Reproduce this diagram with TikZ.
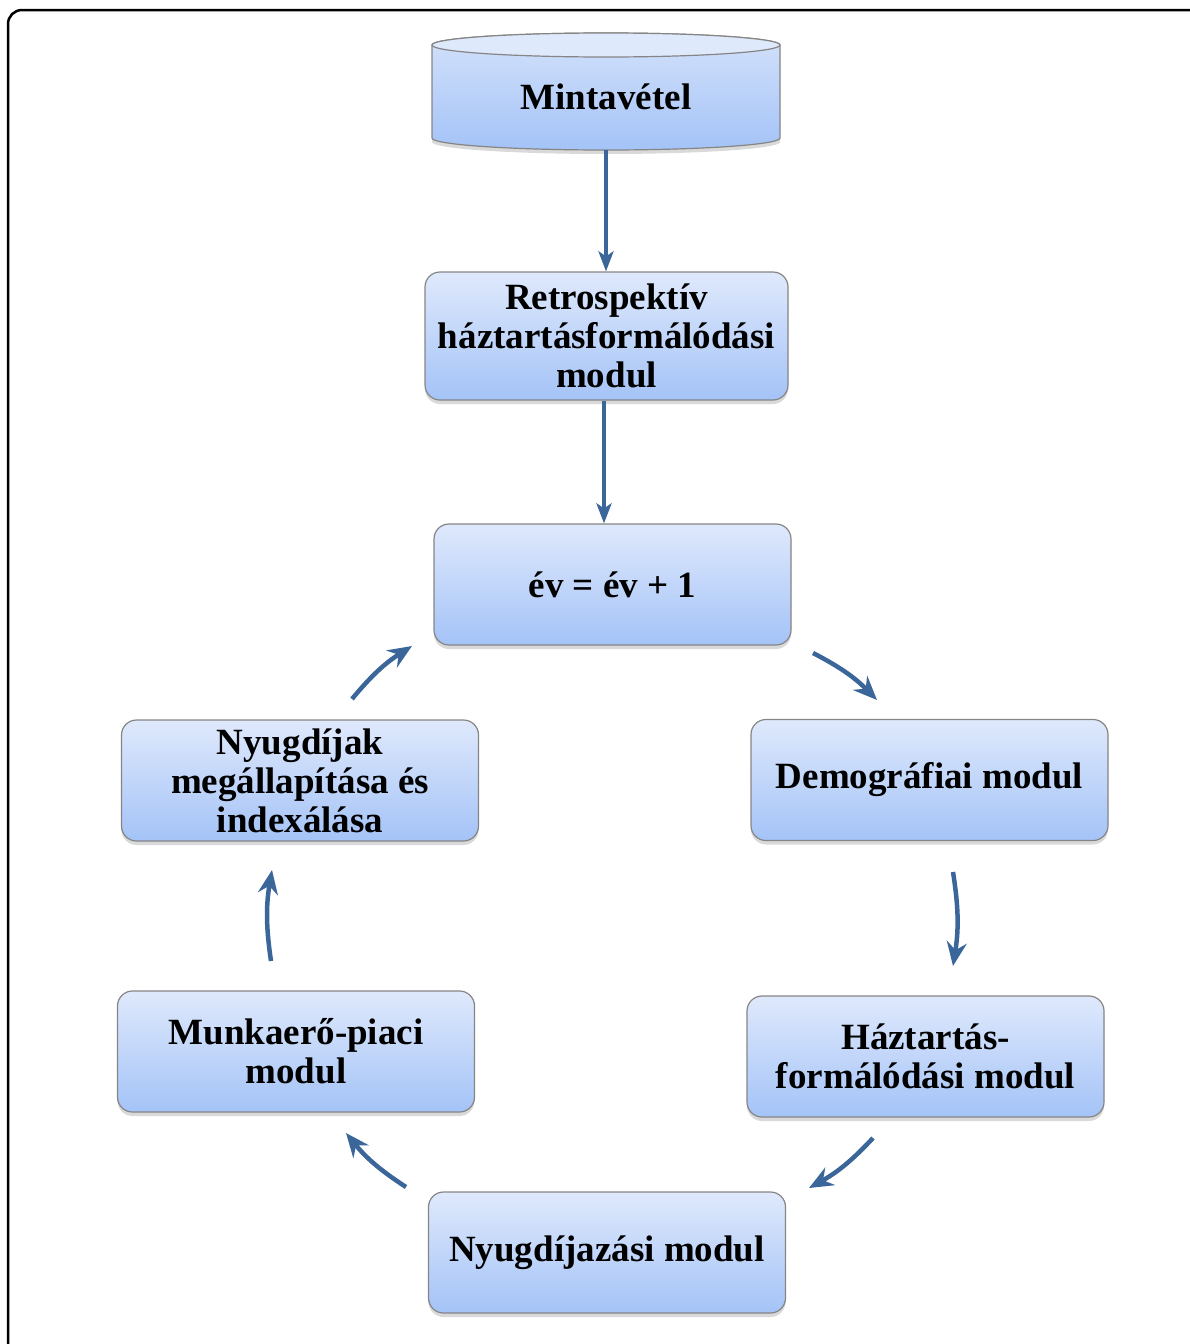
\documentclass[tikz,border=0pt]{standalone}
\usepackage{fontspec}
\setmainfont{Liberation Serif}
\usetikzlibrary{arrows.meta,positioning,shadows}
\definecolor{flow}{HTML}{3A6699}
\definecolor{boxtop}{HTML}{DFE9FC}
\definecolor{boxbot}{HTML}{A4C3F7}
\definecolor{rim}{HTML}{858585}

\begin{document}
\begin{tikzpicture}[x=1pt,y=-1pt,
  font=\bfseries\fontsize{37}{39}\selectfont,
  modul/.style={rounded corners=15pt, draw=rim, line width=1.2pt,
    top color=boxtop, bottom color=boxbot, minimum width=357pt,
    minimum height=121pt, align=center, inner sep=2pt,
    drop shadow={shadow xshift=0pt,shadow yshift=-4pt,opacity=0.3}},
  link/.style={flow, line width=4.5pt, -{Stealth[length=20pt,width=15pt,inset=5pt]}},
  loop/.style={flow, line width=4.5pt, -{Stealth[length=24pt,width=20pt,inset=8pt]}, bend left=9},
]
\useasboundingbox (0,0) rectangle (1189,1344);
\draw[line width=2.5pt, rounded corners=14pt] (8,10) rectangle (1230,1390);

% ===== sampling cylinder =====
\path[draw=rim, line width=1.2pt, top color=boxtop!80!boxbot, bottom color=boxbot,
      drop shadow={shadow xshift=0pt,shadow yshift=-4pt,opacity=0.3}]
  (432,45) -- (432,138) arc[start angle=180, end angle=0, x radius=174, y radius=12]
  -- (780,45) arc[start angle=0, end angle=-180, x radius=174, y radius=12] -- cycle;
\draw[draw=rim, line width=1.2pt, fill=boxtop] (606,45) ellipse[x radius=174, y radius=12];
\node (mv) at (606,97) {Mintavétel};
\coordinate (mvfoot) at (606,150);

% ===== modules =====
\node[modul, minimum width=363pt, minimum height=128pt] (rm) at (606.5,336) {Retrospektív\\háztartásformálódási\\modul};
\node[modul] (ev) at (612.5,584.5) {év = év + 1};
\node[modul] (dm) at (929.5,780) {\raisebox{-4pt}{Demográfiai modul}};
\node[modul] (ny) at (300,780.5) {Nyugdíjak\\megállapítása és\\indexálása};
\node[modul] (hf) at (925.5,1056.5) {Háztartás-\\formálódási modul};
\node[modul] (nz) at (607,1252.5) {\raisebox{-3pt}{Nyugdíjazási modul}};
\node[modul] (mp) at (296,1051.5) {Munkaerő-piaci\\modul};

% ===== straight links =====
\draw[link] (mvfoot) -- (rm.north -| mvfoot);
\draw[link] (rm.south -| 604,0) -- (ev.north -| 604,0);

% ===== yearly loop =====
\coordinate (a1s) at (813,653);  \coordinate (a1e) at (877,700);
\coordinate (a2s) at (953,872);  \coordinate (a2e) at (953,966);
\coordinate (a3s) at (873,1138); \coordinate (a3e) at (809,1188);
\coordinate (a4s) at (406,1187); \coordinate (a4e) at (346,1133);
\coordinate (a5s) at (271,961);  \coordinate (a5e) at (272,870);
\coordinate (a6s) at (352,699);  \coordinate (a6e) at (412,646);
\draw[loop] (a1s) to (a1e);
\draw[loop] (a2s) to (a2e);
\draw[loop] (a3s) to (a3e);
\draw[loop] (a4s) to (a4e);
\draw[loop] (a5s) to (a5e);
\draw[loop] (a6s) to (a6e);
\end{tikzpicture}
\end{document}
